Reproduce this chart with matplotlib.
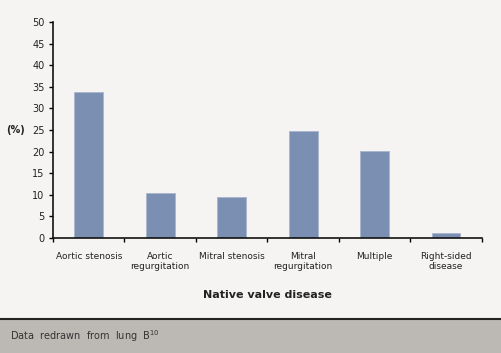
import matplotlib.pyplot as plt
from matplotlib.patches import Rectangle

categories = ["Aortic stenosis", "Aortic\nregurgitation", "Mitral stenosis",
              "Mitral\nregurgitation", "Multiple", "Right-sided\ndisease"]
percent = [33.9, 10.3, 9.4, 24.8, 20.1, 1.1]

bg = "#f5f4f2"
fig = plt.figure(figsize=(5.02, 3.53), dpi=100, facecolor=bg)
ax = fig.add_axes([0.1056, 0.3258, 0.8544, 0.6119], facecolor=bg)

x = range(len(categories))
ax.bar(x, percent, width=0.4, color="#7b8fb3", edgecolor="#a9b6cc", linewidth=0.6)

ax.set_xlim(-0.5, len(categories) - 0.5)
ax.set_ylim(0, 50)
ax.set_yticks(range(0, 51, 5))
ax.set_xticks([i - 0.5 for i in range(len(categories) + 1)])
ax.set_xticklabels([])
ax.set_xticks(list(x), minor=True)
ax.set_xticklabels(categories, minor=True, fontsize=6.5, color="#222222")
ax.tick_params(axis="x", which="minor", length=0, pad=10)
ax.tick_params(axis="x", which="major", length=3, width=1, direction="out")
ax.tick_params(axis="y", length=3, width=1, direction="out", labelsize=7,
               labelcolor="#222222", pad=3)

for s in ["top", "right"]:
    ax.spines[s].set_visible(False)
for s in ["left", "bottom"]:
    ax.spines[s].set_linewidth(1.2)
    ax.spines[s].set_color("#111111")

fig.text(6 / 502, 1 - 130 / 353, "(%)", fontsize=7, fontweight="bold",
         color="#222222", va="center", ha="left")
fig.text(267 / 502, 1 - 295 / 353, "Native valve disease", fontsize=8,
         fontweight="bold", color="#222222", ha="center", va="center")

# footer band
fig.patches.append(Rectangle((0, 0), 1, 34 / 353, transform=fig.transFigure,
                             facecolor="#bcb9b4", edgecolor="none", zorder=0))
fig.lines.append(plt.Line2D([0, 1], [34 / 353, 34 / 353], transform=fig.transFigure,
                            color="#222222", linewidth=1.5))
fig.text(10 / 502, 1 - 336 / 353, "Data  redrawn  from  lung  B$^{10}$", fontsize=7,
         color="#333333", ha="left", va="center")

fig.savefig("out.png", dpi=100, facecolor=bg)
